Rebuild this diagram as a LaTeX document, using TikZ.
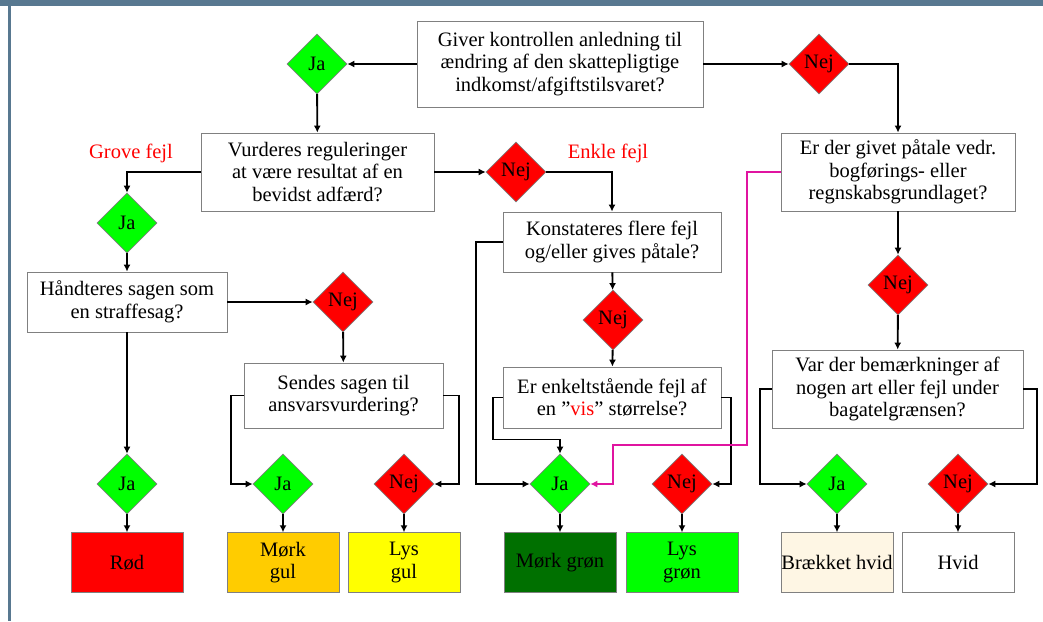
\documentclass[tikz,border=0pt]{standalone}
\usepackage{fontspec}
\setmainfont{Liberation Serif}
\usetikzlibrary{shapes.geometric, positioning, arrows.meta}
\definecolor{barblue}{RGB}{88,120,144}
\definecolor{boxgrey}{RGB}{128,128,128}
\definecolor{jagreen}{RGB}{0,255,0}
\definecolor{nejred}{RGB}{255,0,0}
\definecolor{darkgul}{RGB}{255,204,0}
\definecolor{lightgul}{RGB}{255,255,0}
\definecolor{darkgron}{RGB}{0,112,0}
\definecolor{offwhite}{RGB}{254,246,228}
\definecolor{pinkline}{RGB}{224,20,160}

\begin{document}
\begin{tikzpicture}[
  x=1pt, y=-1pt,
  font=\fontsize{20.5}{22.5}\selectfont,
  mybox/.style={draw=boxgrey,line width=0.8pt,fill=white,align=center,inner sep=0pt},
  mydia/.style={diamond,draw=boxgrey,line width=0.6pt,minimum width=60pt,minimum height=60pt,inner sep=0pt},
  myja/.style={mydia,fill=jagreen},
  mynej/.style={mydia,fill=nejred},
  myres/.style={mybox,minimum width=112pt,minimum height=60pt},
  conn/.style={-{Latex[length=7pt,width=7pt]},line width=1.9pt}
]
\useasboundingbox (0,0) rectangle (1043,621);
\fill[barblue] (0,0) rectangle (1043,6);
\draw[barblue,line width=3pt] (9.5,6) -- (9.5,621);

% questions
\node[mybox,minimum width=286pt,minimum height=86pt] (q1) at (560,64) {Giver kontrollen anledning til\\ændring af den skattepligtige\\indkomst/afgiftstilsvaret?};
\node[mybox,minimum width=233pt,minimum height=78pt] (q2) at (317.5,172) {Vurderes reguleringer\\at være resultat af en\\bevidst adfærd?};
\node[mybox,minimum width=234pt,minimum height=78pt] (q3) at (898,172) {Er der givet påtale vedr.\\bogførings- eller\\regnskabsgrundlaget?};
\node[mybox,minimum width=200pt,minimum height=60pt] (q4) at (127,302) {Håndteres sagen som\\en straffesag?};
\node[mybox,minimum width=218pt,minimum height=60pt] (q5) at (612,242) {Konstateres flere fejl\\og/eller gives påtale?};
\node[mybox,minimum width=199pt,minimum height=65pt] (q6) at (343.5,395.5) {Sendes sagen til\\ansvarsvurdering?};
\node[mybox,minimum width=218pt,minimum height=61pt] (q7) at (612,397.5) {Er enkeltstående fejl af\\en ”\textcolor{red}{vis}” størrelse?};
\node[mybox,minimum width=251pt,minimum height=78pt] (q8) at (897.5,389) {Var der bemærkninger af\\nogen art eller fejl under\\bagatelgrænsen?};

% ja / nej
\node[myja] (j1) at (317,64) {Ja};
\node[mynej] (n1) at (819,64) {Nej};
\node[mynej] (n2) at (516,172) {Nej};
\node[myja] (j2) at (127,223) {Ja};
\node[mynej] (n3) at (343,302) {Nej};
\node[mynej] (n4) at (613,320) {Nej};
\node[mynej] (n5) at (898,285) {Nej};
\node[myja] (j3) at (127,484) {Ja};
\node[myja] (j4) at (283,484) {Ja};
\node[mynej] (n6) at (404,484) {Nej};
\node[myja] (j5) at (560,484) {Ja};
\node[mynej] (n7) at (682,484) {Nej};
\node[myja] (j6) at (837,484) {Ja};
\node[mynej] (n8) at (958,484) {Nej};

% results
\node[myres,fill=nejred,below=18pt of j3] (r1) {Rød};
\node[myres,fill=darkgul,below=18pt of j4] (r2) {Mørk\\gul};
\node[myres,fill=lightgul,below=18pt of n6] (r3) {Lys\\gul};
\node[myres,fill=darkgron,below=18pt of j5] (r4) {Mørk grøn};
\node[myres,fill=jagreen,below=18pt of n7] (r5) {Lys\\grøn};
\node[myres,fill=offwhite,below=18pt of j6] (r6) {Brækket hvid};
\node[myres,below=18pt of n8] (r7) {Hvid};

\node[text=red] (g1) at (131,153) {Grove fejl};
\node[text=red] (e1) at (608,153) {Enkle fejl};

\draw[conn] (q1) -- (j1);
\draw[conn] (q1) -- (n1);
\draw[conn] (j1) -- (q2);
\draw[conn] (n1.east) -| (q3.north);
\draw[conn] (q2.west) -| (j2.north);
\draw[conn] (q2) -- (n2);
\draw[conn] (n2.east) -| (q5.north);
\draw[conn] (j2) -- (q4);
\draw[conn] (q4) -- (n3);
\draw[conn] (n3) -- (q6);
\draw[conn] (q4) -- (j3);
\draw[conn] (q6.west) -- ++(-13,0) |- (j4.west);
\draw[conn] (q6.east) -- ++(16,0) |- (n6.east);
\draw[conn] (q5) -- (n4);
\draw[conn] (n4) -- (q7);
\draw[conn] (q5.west) -- ++(-27,0) |- (j5.west);
\draw[conn] (q7.west) -- ++(-10,0) -- ++(0,42) -| (j5.north);
\draw[conn] (q7.east) -- ++(10,0) |- (n7.east);
\draw[conn,pinkline] (q3.west) -- ++(-34,0) |- ++(-134,273) |- (j5.east);
\draw[conn] (q3) -- (n5);
\draw[conn] (n5) -- (q8);
\draw[conn] (q8.west) -- ++(-12,0) |- (j6.west);
\draw[conn] (q8.east) -- ++(14,0) |- (n8.east);
\foreach \a/\b in {j3/r1,j4/r2,n6/r3,j5/r4,n7/r5,j6/r6,n8/r7}
  \draw[conn] (\a) -- (\b);
\end{tikzpicture}
\end{document}
